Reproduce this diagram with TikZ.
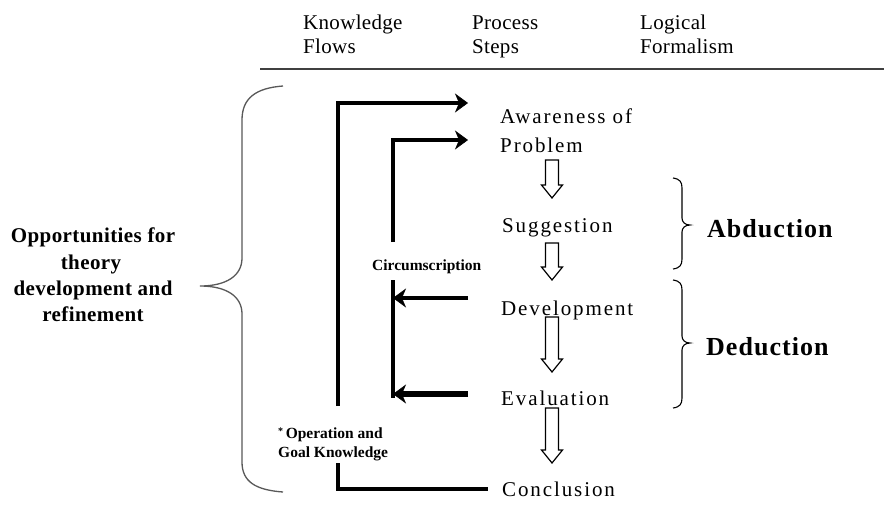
\documentclass[tikz,border=0pt]{standalone}
\usepackage{fontspec}
\setmainfont{Liberation Serif}
\newfontfamily\stepfont[LetterSpace=9]{Liberation Serif}
\newfontfamily\hdfont[LetterSpace=1.5]{Liberation Serif}
\newfontfamily\logfont[LetterSpace=4]{Liberation Serif}
\newfontfamily\leftfont[LetterSpace=2]{Liberation Serif}
\usetikzlibrary{arrows.meta,calc}
\newcommand\blockarr[3]{% x, ytop, ybottom
  \draw[hollowarr] (#1-6.5,#2) -- (#1+6.5,#2) -- (#1+6.5,#3-13) -- (#1+10.5,#3-13)
    -- (#1,#3) -- (#1-10.5,#3-13) -- (#1-6.5,#3-13) -- cycle;}
\begin{document}
\begin{tikzpicture}[x=1pt,y=-1pt,
  txt/.style={inner sep=0pt, anchor=base west},
  hdr/.style={txt, font=\hdfont\fontsize{21}{25}\selectfont},
  stepl/.style={txt, font=\stepfont\fontsize{21}{25}\selectfont},
  formal/.style={txt, font=\logfont\bfseries\fontsize{26}{30}\selectfont},
  smallb/.style={txt, font=\bfseries\fontsize{15.5}{18}\selectfont},
  lefttxt/.style={inner sep=0pt, anchor=base, font=\leftfont\bfseries\fontsize{21}{26}\selectfont},
  flowline/.style={line width=4pt},
  flowarr/.style={line width=4pt, -{Stealth[length=13pt,width=19pt,inset=4pt,line width=0.5pt]}},
  flowarrb/.style={line width=6pt, -{Stealth[length=13pt,width=19pt,inset=4pt,line width=0.5pt]}},
  hollowarr/.style={draw=black, line width=1.2pt, fill=white},
  bracestyle/.style={draw=black!65, line width=1.3pt},
  bracesm/.style={draw=black, line width=1.1pt}]
\useasboundingbox[fill=white] (0,0) rectangle (884,515);

% header
\node[hdr] (h1a) at (303,29) {Knowledge};
\node[hdr] (h1b) at (303,53) {Flows};
\node[hdr] (h2a) at (472,29) {Process};
\node[hdr] (h2b) at (472,53) {Steps};
\node[hdr] (h3a) at (640,29) {Logical};
\node[hdr] (h3b) at (640,53) {Formalism};
\coordinate (rulel) at (260,69);
\coordinate (ruler) at (884,69);
\draw[line width=2.2pt, draw=black!75] (rulel) -- (ruler);

% process steps
\node[stepl] (aw) at (500,123) {Awareness of};
\node[stepl] (pr) at (500,152) {Problem};
\node[stepl] (sg) at (502,232) {Suggestion};
\node[stepl] (dv) at (501,315) {Development};
\node[stepl] (ev) at (501,405) {Evaluation};
\node[stepl] (cc) at (502,496) {Conclusion};

% hollow arrows
\blockarr{552}{160}{198}
\blockarr{552}{243}{280}
\blockarr{552}{317}{372}
\blockarr{552}{408}{463}

% knowledge flows
\coordinate (k1) at (338,406);
\coordinate (k2) at (338,463);
\coordinate (c1) at (393,242);
\coordinate (v2top) at (393,280);
\coordinate (v2bot) at (393,398);
\draw[flowarr] (k1) |- ([shift={(-32,-20)}]aw.base west);
\draw[flowarr] (c1) |- ([shift={(-32,-12)}]pr.base west);
\draw[flowline] (v2top) -- (v2bot);
\draw[flowarr] ([shift={(-33,-17)}]dv.base west) coordinate (d1) -- (d1 -| v2top);
\draw[flowarrb] ([shift={(-33,-11)}]ev.base west) coordinate (e1) -- (e1 -| v2top);
\draw[flowline] (k2) |- ([shift={(-14,-7)}]cc.base west);

\node[smallb] (circ) at (372,270) {Circumscription};
\node[smallb] (op1) at (278,438) {\raisebox{4pt}{\fontsize{10}{10}\selectfont *}\,Operation and};
\node[smallb] (op2) at (278,457) {Goal Knowledge};

% logical formalism
\node[formal] (abd) at (707,237) {Abduction};
\node[formal] (ded) at (706,355) {Deduction};
\draw[bracesm] (673,178) .. controls (680,179) and (682,182) .. (682,188) -- (682,218)
  .. controls (682,222) and (685,225) .. (690,225) .. controls (685,225) and (682,228) .. (682,232)
  -- (682,259) .. controls (682,265) and (680,268) .. (673,269);
\draw[bracesm] (673,280) .. controls (680,281) and (682,284) .. (682,290) -- (682,336)
  .. controls (682,340) and (685,343) .. (690,343) .. controls (685,343) and (682,346) .. (682,350)
  -- (682,398) .. controls (682,404) and (680,407) .. (673,408);

% left brace and text
\draw[bracestyle] (283,86) .. controls (256,88) and (242,98) .. (242,120) -- (242,258)
  .. controls (242,276) and (226,286) .. (200,286)
  .. controls (226,286) and (242,296) .. (242,314) -- (242,462)
  .. controls (242,482) and (256,490) .. (283,492);
\node[lefttxt] (o1) at (93,242) {Opportunities for};
\node[lefttxt] (o2) at (91,269) {theory};
\node[lefttxt] (o3) at (93,295) {development and};
\node[lefttxt] (o4) at (93,321) {refinement};
\end{tikzpicture}
\end{document}
